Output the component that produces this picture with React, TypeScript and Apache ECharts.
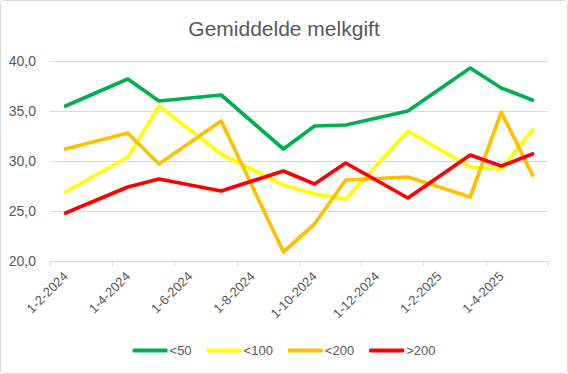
import React, { useEffect, useRef } from "react";
import * as echarts from "echarts";

const months = [
  "1-2-2024", "1-3-2024", "1-4-2024", "1-5-2024", "1-6-2024", "1-7-2024", "1-8-2024", "1-9-2024",
  "1-10-2024", "1-11-2024", "1-12-2024", "1-1-2025", "1-2-2025", "1-3-2025", "1-4-2025", "1-5-2025",
];
// measurement months (subset of months)
const sampleMonths = [
  "1-2-2024", "1-4-2024", "1-5-2024", "1-7-2024", "1-9-2024", "1-10-2024", "1-11-2024",
  "1-1-2025", "1-3-2025", "1-4-2025", "1-5-2025",
];
const lt50 = [35.5, 38.2, 36.0, 36.6, 31.2, 33.5, 33.6, 35.0, 39.3, 37.3, 36.1];
const lt100 = [26.9, 30.4, 35.5, 30.7, 27.6, 26.7, 26.2, 33.0, 29.4, 29.2, 33.1];
const lt200 = [31.2, 32.8, 29.7, 34.0, 20.9, 23.7, 28.1, 28.4, 26.4, 34.9, 28.6];
const gt200 = [24.8, 27.4, 28.2, 27.0, 29.0, 27.7, 29.8, 26.3, 30.6, 29.5, 30.7];

const seriesDefs = [
  { name: "<50", values: lt50, color: "#00B050" },
  { name: "<100", values: lt100, color: "#FFFF00" },
  { name: "<200", values: lt200, color: "#FFC000" },
  { name: ">200", values: gt200, color: "#FF0000" },
];

function toMonthly(values: number[]) {
  return months.map((m) => {
    const i = sampleMonths.indexOf(m);
    return i >= 0 ? values[i] : null;
  });
}

export default function App() {
  const ref = useRef<HTMLDivElement>(null);
  useEffect(() => {
    if (!ref.current) return;
    const chart = echarts.init(ref.current, undefined, { renderer: "svg" });
    const font = "'Liberation Sans', Arial, sans-serif";
    chart.setOption({
      animation: false,
      textStyle: { fontFamily: font },
      graphic: [
        {
          type: "rect",
          shape: { x: 0.5, y: 0.5, width: 567, height: 373, r: 3 },
          style: { fill: "none", stroke: "#D9D9D9", lineWidth: 1 },
          silent: true,
        },
      ],
      title: {
        text: "Gemiddelde melkgift",
        left: "center",
        top: 13,
        textStyle: { fontSize: 21, fontWeight: "normal", color: "#595959", fontFamily: font },
      },
      legend: {
        bottom: 12,
        left: "center",
        itemWidth: 35,
        itemHeight: 4,
        itemGap: 15,
        icon: "roundRect",
        textStyle: { fontSize: 13, color: "#595959", padding: [0, 0, 0, -3] },
        data: seriesDefs.map((s) => s.name),
      },
      grid: { left: 50, right: 20, top: 61, bottom: 113, containLabel: false },
      xAxis: {
        type: "category",
        data: months,
        boundaryGap: true,
        axisLine: { lineStyle: { color: "#D9D9D9" } },
        axisTick: { show: true, interval: 1, length: 5, lineStyle: { color: "#D9D9D9" } },
        axisLabel: { interval: 1, rotate: 45, fontSize: 13, color: "#595959", margin: 13 },
      },
      yAxis: {
        type: "value",
        min: 20,
        max: 40,
        interval: 5,
        axisLine: { show: false },
        axisTick: { show: false },
        splitLine: { lineStyle: { color: "#D9D9D9" } },
        axisLabel: {
          fontSize: 14,
          color: "#595959",
          margin: 14,
          formatter: (v: number) => v.toFixed(1).replace(".", ","),
        },
      },
      series: seriesDefs.map((s) => ({
        name: s.name,
        type: "line",
        data: toMonthly(s.values),
        connectNulls: true,
        showSymbol: false,
        symbol: "none",
        itemStyle: { color: s.color },
        lineStyle: { color: s.color, width: 3.7, cap: "round", join: "round" },
      })),
    });
    return () => chart.dispose();
  }, []);
  return (
    <div style={{ position: "fixed", left: 0, top: 0, width: 568, height: 374, background: "#fff" }}>
      <div ref={ref} style={{ width: 568, height: 374 }} />
    </div>
  );
}
